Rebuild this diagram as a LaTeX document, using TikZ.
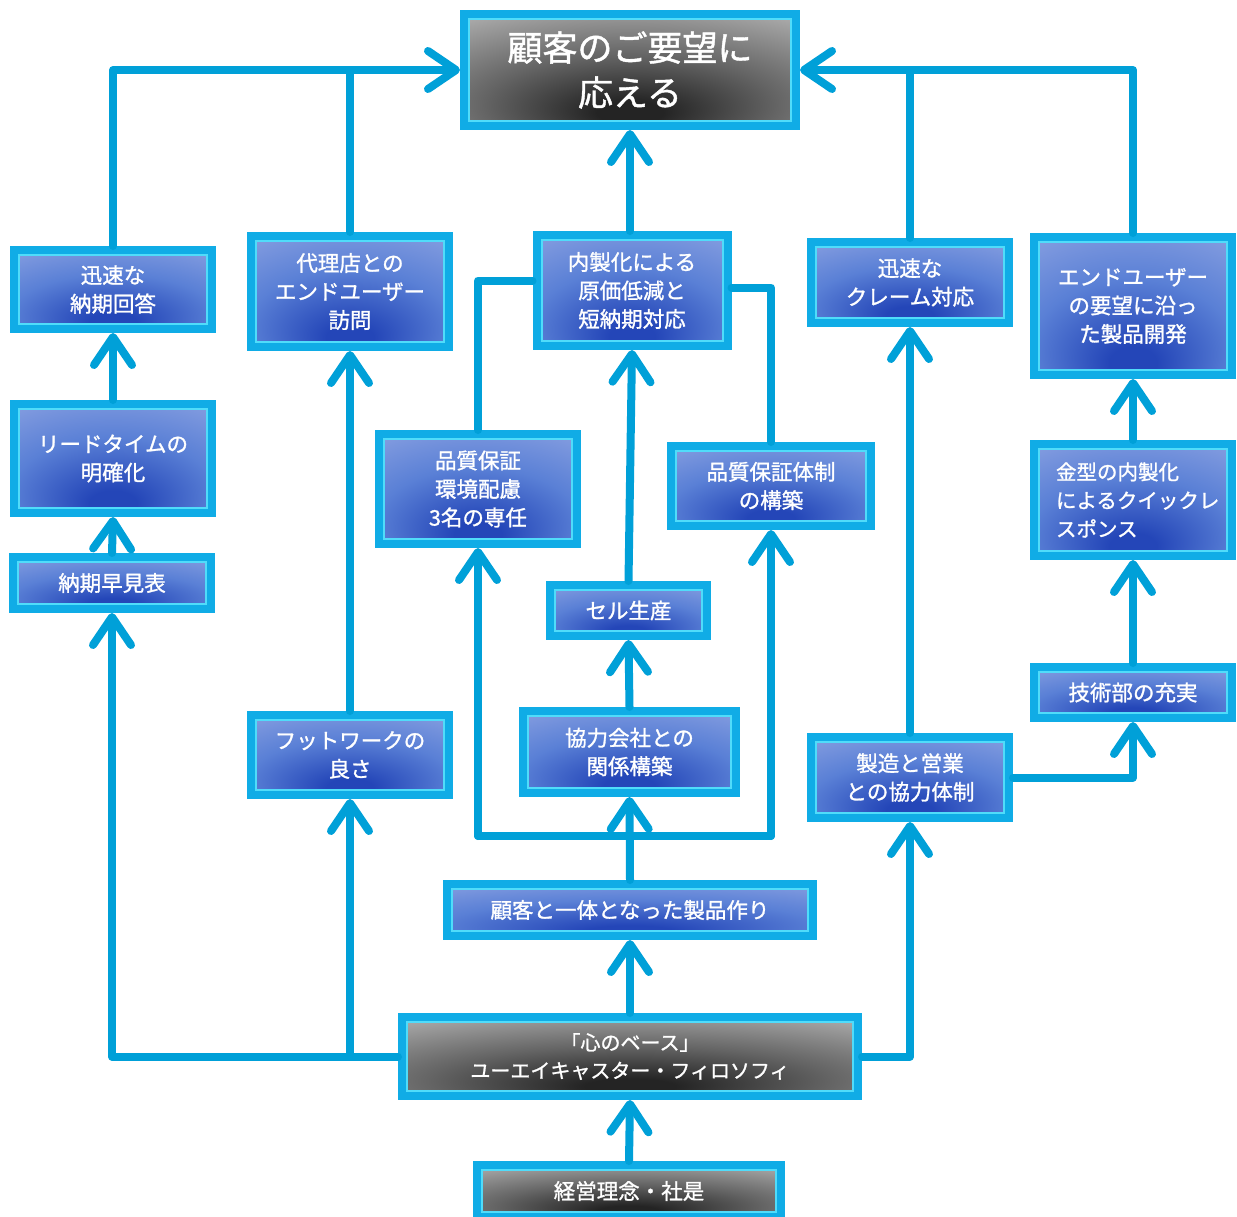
\documentclass[tikz,border=0pt]{standalone}
\usepackage{fontspec}
\newfontfamily\jp{Noto Sans CJK JP}[FakeBold=1.2]
\usetikzlibrary{arrows.meta,calc,shadows}
\definecolor{connc}{RGB}{0,160,216}
\definecolor{framec}{RGB}{16,172,230}
\definecolor{framelt}{RGB}{80,220,250}
\definecolor{blight}{RGB}{160,176,230}
\definecolor{bmid}{RGB}{90,128,214}
\definecolor{bdark}{RGB}{36,70,184}
\definecolor{glight}{RGB}{176,176,176}
\definecolor{gmid}{RGB}{100,100,100}
\definecolor{gdark}{RGB}{36,36,36}
\pgfdeclareradialshading{bluesh}{\pgfpoint{0bp}{-22bp}}{color(0bp)=(bdark); color(6bp)=(bdark); color(26bp)=(bmid); color(56bp)=(blight); color(100bp)=(blight)}
\pgfdeclareradialshading{graysh}{\pgfpoint{0bp}{-20bp}}{color(0bp)=(gdark); color(5bp)=(gdark); color(22bp)=(gmid); color(44bp)=(glight); color(100bp)=(glight)}
\tikzset{
  bx/.style={draw=framec, line width=8pt, outer sep=4pt, inner sep=0pt,
    shading=bluesh, text=white, align=center,
    font=\jp\fontsize{21.5}{28.5}\selectfont,
    drop shadow={shadow xshift=2pt, shadow yshift=-2pt, opacity=0.45, fill=gray},
    path picture={\draw[framelt, line width=2pt]
      ([shift={(5pt,-5pt)}]path picture bounding box.north west) rectangle
      ([shift={(-5pt,5pt)}]path picture bounding box.south east);}},
  gx/.style={bx, shading=graysh},
  wh/.style 2 args={minimum width=#1pt, minimum height=#2pt},
  conn/.style={draw=connc, line width=8pt, line join=round, line cap=round,
    -{Straight Barb[length=28pt, width=38pt, round]}},
  plain/.style={draw=connc, line width=8pt, line join=round, line cap=round},
}
\begin{document}
\begin{tikzpicture}[x=1pt,y=-1pt]
\useasboundingbox (0,0) rectangle (1237,1216);

% nodes
\node[gx, wh={332}{112}, font=\jp\fontsize{35}{45}\selectfont] (top) at (630,70) {顧客のご要望に\\応える};
\node[bx, wh={198}{79}]  (nouki)   at (113,289.5) {迅速な\\納期回答};
\node[bx, wh={198}{111}] (dairi)   at (350,291.5) {代理店との\\エンドユーザー\\訪問};
\node[bx, wh={191}{111}] (naisei)  at (632,290.5) {内製化による\\原価低減と\\短納期対応};
\node[bx, wh={198}{81}]  (claim)   at (910,282.5) {迅速な\\クレーム対応};
\node[bx, wh={198}{138}] (enduser) at (1133,306) {エンドユーザー\\の要望に沿っ\\た製品開発};
\node[bx, wh={198}{109}] (lead)    at (113,458.5) {リードタイムの\\明確化};
\node[bx, wh={198}{52}]  (hayami)  at (112,583) {納期早見表};
\node[bx, wh={198}{110}] (hinshitsu) at (478,489) {品質保証\\環境配慮\\3名の専任};
\node[bx, wh={200}{80}]  (taisei)  at (771,486) {品質保証体制\\の構築};
\node[bx, wh={198}{112}, align=left, text width=154pt, font=\jp\fontsize{20.5}{28.5}\selectfont] (kanagata) at (1133,500) {金型の内製化\\によるクイックレ\\スポンス};
\node[bx, wh={157}{51}]  (cell)    at (628.5,610.5) {セル生産};
\node[bx, wh={198}{51}]  (gijutsu) at (1133,692.5) {技術部の充実};
\node[bx, wh={198}{80}]  (footwork) at (350,755) {フットワークの\\良さ};
\node[bx, wh={213}{82}]  (kyoryoku) at (629.5,752) {協力会社との\\関係構築};
\node[bx, wh={198}{81}]  (seizo)   at (910,777.5) {製造と営業\\との協力体制};
\node[bx, wh={366}{52}]  (kokyaku) at (630,910) {顧客と一体となった製品作り};
\node[gx, wh={456}{79}, font=\jp\fontsize{20}{28}\selectfont] (kokoro) at (630,1056.5) {「心のベース」\\ユーエイキャスター・フィロソフィ};
\node[gx, wh={304}{52}]  (keiei)   at (629,1191) {経営理念・社是};

% loop coordinates
\coordinate (loopL) at (478,836);
\coordinate (loopR) at (771,836);

% connectors to top
\draw[conn] (nouki.north) |- (top.west);
\draw[plain] (dairi.north) -- (dairi.north |- top.west);
\draw[conn] (top.south |- naisei.north) -- (top.south);
\draw[conn] (claim.north) |- (top.east);
\draw[plain] (enduser.north) |- (claim.north |- top.east);

% left column
\draw[conn] (lead.north) -- (nouki.south);
\draw[conn] (hayami.north) -- (lead.south);
\draw[conn] (kokoro.west) -| (hayami.south);
\draw[conn] (footwork.south |- kokoro.west) -- (footwork.south);
\draw[conn] (footwork.north) -- (dairi.south);

% centre
\draw[plain] (hinshitsu.north) |- ($(naisei.west)+(0,-10)$);
\draw[plain] (taisei.north) |- ($(naisei.east)+(0,-3)$);
\draw[conn] (cell.north) -- (naisei.south);
\draw[conn] (kyoryoku.north) -- (cell.south);
\draw[conn] (kokyaku.north) -- (kyoryoku.south);
\draw[plain] (loopL) -- (loopR);
\draw[conn] (loopL) -- (hinshitsu.south);
\draw[conn] (loopR) -- (taisei.south);
\draw[conn] (kokoro.north) -- (kokyaku.south);
\draw[conn] (keiei.north) -- (kokoro.south);

% right
\draw[conn] (kokoro.east) -| (seizo.south);
\draw[conn] (seizo.north) -- (claim.south);
\draw[conn] (seizo.east) -| (gijutsu.south);
\draw[conn] (gijutsu.north) -- (kanagata.south);
\draw[conn] (kanagata.north) -- (enduser.south);
\end{tikzpicture}
\end{document}
